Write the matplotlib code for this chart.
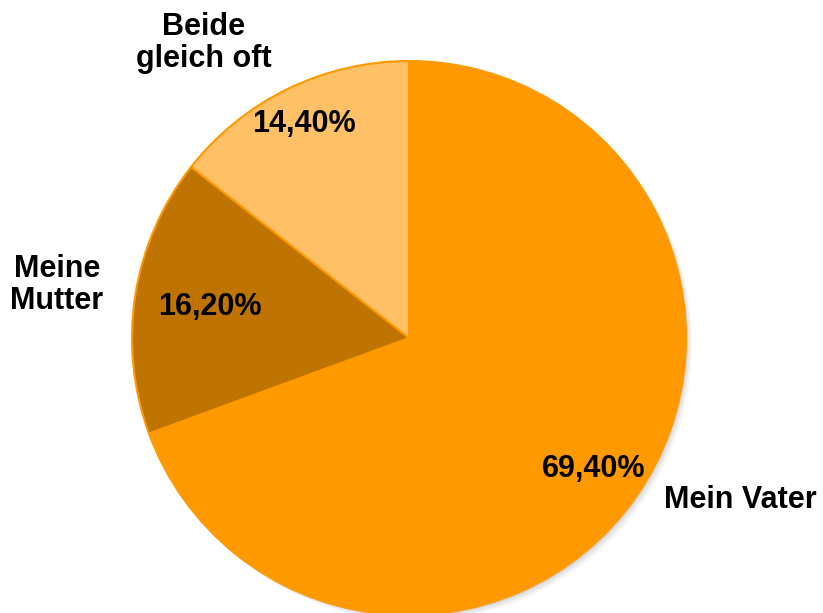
import matplotlib.pyplot as plt

plt.rcParams['font.family'] = ['Liberation Sans', 'DejaVu Sans']

labels = ['Mein Vater', 'Meine\nMutter', 'Beide\ngleich oft']
values = [69.4, 16.2, 14.4]
colors = ['#FF9900', '#BF7300', '#FFC066']
pct_text = ['69,40%', '16,20%', '14,40%']

W, H = 823, 613
fig = plt.figure(figsize=(W / 100, H / 100), dpi=100)
ax = fig.add_axes([0, 0, 1, 1])

cx, cy, r = 409, 613 - 338, 277

# soft shadow
for off, a in [(6, 0.08), (4, 0.12), (2, 0.18)]:
    ax.pie(values, radius=r, center=(cx + off, cy - off), startangle=90,
           counterclock=False, colors=['#888888'] * 3,
           wedgeprops=dict(linewidth=0, alpha=a), frame=True)

ax.pie(values, radius=r, center=(cx, cy), startangle=90, counterclock=False,
       colors=colors, wedgeprops=dict(edgecolor='#FF9900', linewidth=1.5),
       frame=True)
ax.set_xlim(0, W)
ax.set_ylim(0, H)
ax.set_aspect('equal')
ax.axis('off')

# percentage labels
pct_pos = [(594, 469), (210, 307), (304, 124)]
for t, (x, y) in zip(pct_text, pct_pos):
    ax.text(x, H - y, t, ha='center', va='center', fontsize=22,
            fontweight='bold', color='black')

# category labels
lab_pos = [(740, 500), (57, 285), (204, 43)]
for t, (x, y) in zip(labels, lab_pos):
    ax.text(x, H - y, t, ha='center', va='center', fontsize=22,
            fontweight='bold', color='black', linespacing=1.1)

fig.savefig('out.png', dpi=100, facecolor='white')
